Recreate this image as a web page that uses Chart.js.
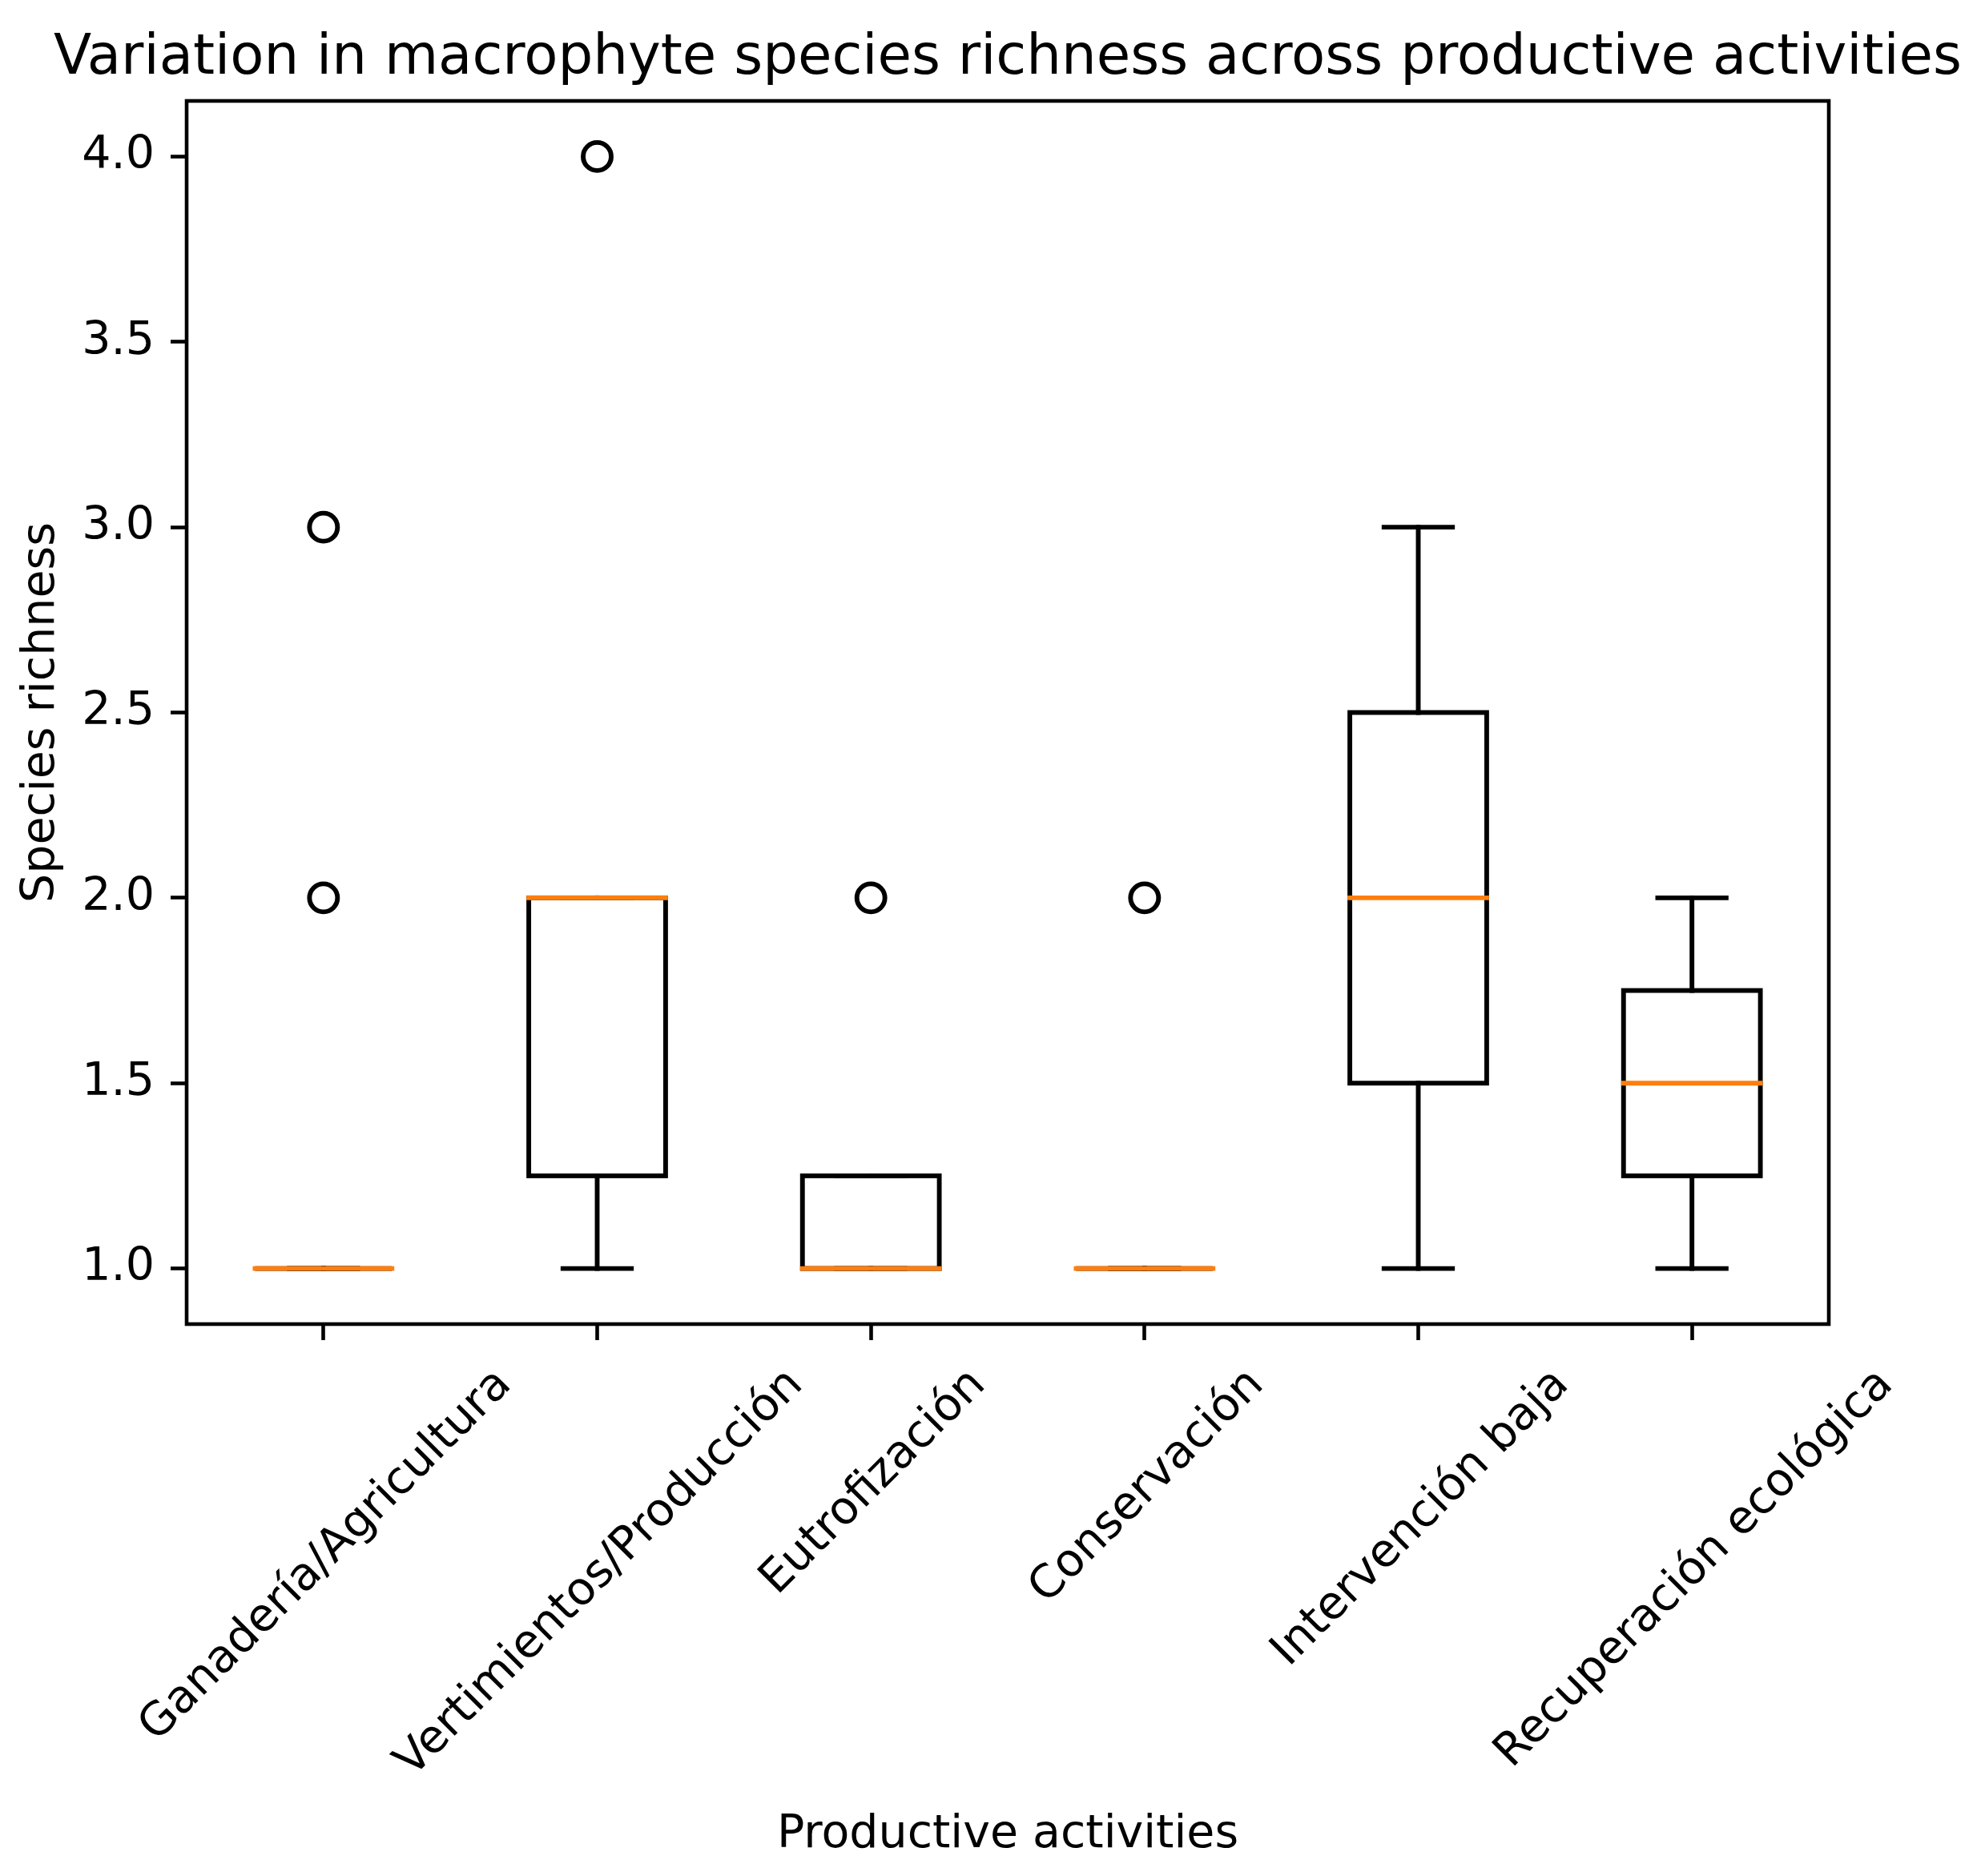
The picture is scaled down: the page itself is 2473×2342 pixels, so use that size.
<!DOCTYPE html>
<html>
<head>
<meta charset="utf-8">
<script src="https://cdn.jsdelivr.net/npm/chart.js@4.4.1/dist/chart.umd.min.js"></script>
<style>
  html, body { margin: 0; padding: 0; background: #fff; }
  canvas { display: block; }
</style>
</head>
<body>
<canvas id="boxChart" width="2473" height="2342" style="width:2473px;height:2342px"></canvas>
<script>
const categories = [
    'Ganadería/Agricultura',
    'Vertimientos/Producción',
    'Eutrofización',
    'Conservación',
    'Intervención baja',
    'Recuperación ecológica',
];
const q1 = [1, 1.25, 1, 1, 1.5, 1.25];
const medians = [1, 2, 1, 1, 2, 1.5];
const q3 = [1, 2, 1.25, 1, 2.5, 1.75];
const whiskerLow = [1, 1, 1, 1, 1, 1];
const whiskerHigh = [1, 2, 1.25, 1, 3, 2];
// outliers: index of the group and value
const flierGroup = [0, 0, 1, 2, 3];
const flierValue = [2, 3, 4, 2, 2];
const yTicks = [1.0, 1.5, 2.0, 2.5, 3.0, 3.5, 4.0];

const TITLE = 'Variation in macrophyte species richness across productive activities';
const X_TITLE = 'Productive activities';
const Y_TITLE = 'Species richness';

const FONT = '"DejaVu Sans", sans-serif';
const LABEL_PX = 57;
const LINE = 5.9;
const SPINE = 4.6;
const ORANGE = '#ff7f0e';

// -- whiskers, caps, box outlines and medians -------------------------
const boxParts = {
    id: 'boxParts',
    afterDatasetsDraw(chart) {
        const { ctx, scales: { y } } = chart;
        const bars = chart.getDatasetMeta(0).data;
        ctx.save();
        ctx.lineWidth = LINE;
        ctx.lineCap = 'square';
        ctx.lineJoin = 'miter';
        const seg = (x0, y0, x1, y1, color) => {
            ctx.strokeStyle = color;
            ctx.beginPath();
            ctx.moveTo(x0, y0);
            ctx.lineTo(x1, y1);
            ctx.stroke();
        };
        bars.forEach((bar, i) => {
            const cx = bar.x;
            const half = bar.width / 2;
            const capHalf = half / 2;
            const yLo = y.getPixelForValue(whiskerLow[i]);
            const yHi = y.getPixelForValue(whiskerHigh[i]);
            const yQ1 = y.getPixelForValue(q1[i]);
            const yQ3 = y.getPixelForValue(q3[i]);
            const yMed = y.getPixelForValue(medians[i]);
            seg(cx, yQ1, cx, yLo, '#000');
            seg(cx, yQ3, cx, yHi, '#000');
            seg(cx - capHalf, yLo, cx + capHalf, yLo, '#000');
            seg(cx - capHalf, yHi, cx + capHalf, yHi, '#000');
            ctx.strokeStyle = '#000';
            ctx.strokeRect(cx - half, yQ3, 2 * half, yQ1 - yQ3);
            seg(cx - half, yMed, cx + half, yMed, ORANGE);
        });
        // axes frame
        const a = chart.chartArea;
        ctx.lineWidth = SPINE;
        ctx.strokeStyle = '#000';
        ctx.strokeRect(a.left, a.top, a.right - a.left, a.bottom - a.top);
        ctx.restore();
    },
};

// -- title, axis titles and rotated category labels --------------------
const texts = {
    id: 'texts',
    afterDraw(chart) {
        const { ctx, chartArea: a, scales: { x } } = chart;
        const mid = (a.left + a.right) / 2;
        ctx.save();
        ctx.fillStyle = '#000';
        ctx.textAlign = 'center';
        ctx.textBaseline = 'alphabetic';

        ctx.font = `69px ${FONT}`;
        ctx.fillText(TITLE, mid, a.top - 34);

        ctx.font = `${LABEL_PX}px ${FONT}`;
        ctx.fillText(X_TITLE, mid, 2306);

        ctx.save();
        ctx.translate(67, (a.top + a.bottom) / 2);
        ctx.rotate(-Math.PI / 2);
        ctx.fillText(Y_TITLE, 0, 0);
        ctx.restore();

        const h = 1.164 * LABEL_PX;
        const top = a.bottom + 20 + 20;
        categories.forEach((c, i) => {
            const w = ctx.measureText(c).width;
            const s = (w + h) / Math.SQRT2;
            ctx.save();
            ctx.translate(x.getPixelForValue(i), top + s / 2);
            ctx.rotate(-Math.PI / 4);
            ctx.fillText(c, 0, 0.346 * LABEL_PX);
            ctx.restore();
        });
        ctx.restore();
    },
};

new Chart(document.getElementById('boxChart'), {
    type: 'bar',
    data: {
        labels: categories,
        datasets: [
            {
                label: 'IQR',
                data: categories.map((_, i) => [q1[i], q3[i]]),
                backgroundColor: 'rgba(0,0,0,0)',
                borderWidth: 0,
                barPercentage: 0.5,
                categoryPercentage: 1,
            },
            {
                type: 'line',
                label: 'Outliers',
                data: flierGroup.map((g, k) => ({ x: categories[g], y: flierValue[k] })),
                showLine: false,
                pointStyle: 'circle',
                pointRadius: 17.5,
                pointBorderWidth: LINE,
                pointBorderColor: '#000',
                pointBackgroundColor: 'rgba(0,0,0,0)',
            },
        ],
    },
    options: {
        responsive: false,
        devicePixelRatio: 1,
        animation: false,
        events: [],
        layout: { padding: { left: 0, top: 126, right: 190, bottom: 0 } },
        plugins: { legend: { display: false }, tooltip: { enabled: false }, title: { display: false } },
        scales: {
            x: {
                type: 'category',
                offset: true,
                afterFit: (s) => { s.height = 689; },
                ticks: { display: false, autoSkip: false },
                grid: {
                    offset: false, drawOnChartArea: false, drawTicks: true,
                    tickLength: 20, tickWidth: SPINE, tickColor: '#000',
                },
                border: { display: false },
            },
            y: {
                min: 0.85,
                max: 4.15,
                afterBuildTicks: (s) => { s.ticks = yTicks.map((v) => ({ value: v })); },
                afterFit: (s) => { s.width = 233; },
                ticks: {
                    callback: (v) => Number(v).toFixed(1),
                    font: { family: FONT, size: LABEL_PX },
                    color: '#000',
                    padding: 20,
                },
                grid: {
                    drawOnChartArea: false, drawTicks: true,
                    tickLength: 20, tickWidth: SPINE, tickColor: '#000',
                },
                border: { display: false },
            },
        },
    },
    plugins: [boxParts, texts],
});
</script>
</body>
</html>
